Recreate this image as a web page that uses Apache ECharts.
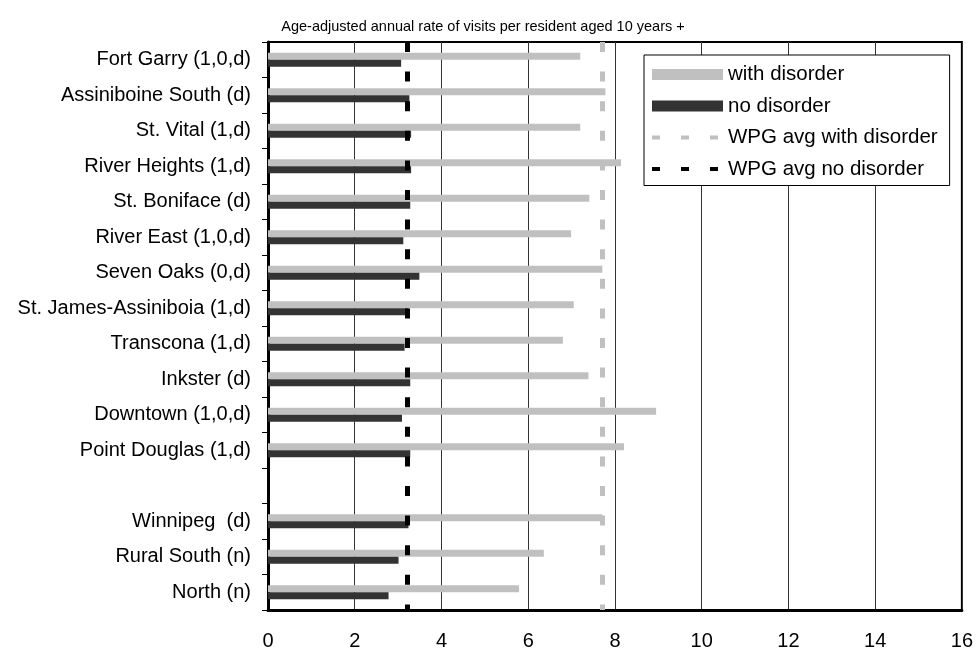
<!DOCTYPE html>
<html>
<head>
<meta charset="utf-8">
<script src="https://cdn.jsdelivr.net/npm/echarts@6/dist/echarts.min.js"></script>
<style>html,body{margin:0;padding:0;background:#fff;}#c{width:976px;height:651px;}</style>
</head>
<body>
<div id="c"></div>
<script>
const categories = ['Fort Garry (1,0,d)', 'Assiniboine South (d)', 'St. Vital (1,d)', 'River Heights (1,d)', 'St. Boniface (d)', 'River East (1,0,d)', 'Seven Oaks (0,d)', 'St. James-Assiniboia (1,d)', 'Transcona (1,d)', 'Inkster (d)', 'Downtown (1,0,d)', 'Point Douglas (1,d)', '', 'Winnipeg  (d)', 'Rural South (n)', 'North (n)'];
const withDisorder = [7.20, 7.78, 7.20, 8.14, 7.41, 6.99, 7.71, 7.05, 6.80, 7.39, 8.95, 8.21, null, 7.71, 6.36, 5.79];
const noDisorder = [3.07, 3.26, 3.30, 3.30, 3.28, 3.12, 3.49, 3.24, 3.15, 3.28, 3.09, 3.28, null, 3.24, 3.01, 2.78];
const wpgAvgWith = 7.70;
const wpgAvgNo = 3.22;
const xMin = 0, xMax = 16, xStep = 2;
const subtitle = 'Age-adjusted annual rate of visits per resident aged 10 years +';

const chart = echarts.init(document.getElementById('c'));
const font = 'Arial, "Liberation Sans", sans-serif';
chart.setOption({
  animation: false,
  backgroundColor: '#fff',
  title: {
    text: subtitle, left: 478, top: 14, textAlign: 'center',
    textStyle: {fontFamily: font, fontSize: 14.5, fontWeight: 'normal', color: '#000'}
  },
  grid: {left: 268, right: 11, top: 42, bottom: 41, show: true, borderColor: '#000', borderWidth: 2, backgroundColor: 'transparent'},
  legend: {
    orient: 'vertical', left: 644, top: 55,
    backgroundColor: '#fff', borderColor: '#000', borderWidth: 1,
    padding: [9, 12, 6, 6], itemGap: 10.5, itemWidth: 71, itemHeight: 11,
    textStyle: {fontFamily: font, fontSize: 20.5, color: '#000', lineHeight: 20},
    data: [
      {name: 'with disorder', icon: 'rect'},
      {name: 'no disorder', icon: 'rect'},
      {name: 'WPG avg with disorder', itemStyle: {opacity: 0}, lineStyle: {type: [8, 21], width: 4, color: '#C0C0C0'}},
      {name: 'WPG avg no disorder', itemStyle: {opacity: 0}, lineStyle: {type: [8, 21], width: 4, color: '#000'}}
    ]
  },
  xAxis: {
    type: 'value', min: xMin, max: xMax, interval: xStep,
    axisLine: {show: true, lineStyle: {color: '#000', width: 3}},
    axisTick: {show: false},
    axisLabel: {fontFamily: font, fontSize: 20, color: '#000', margin: 21},
    splitLine: {show: true, lineStyle: {color: '#333', width: 1}}
  },
  yAxis: {
    type: 'category', data: categories, inverse: true,
    axisLine: {show: true, lineStyle: {color: '#000', width: 3}},
    axisTick: {show: true, length: 6, lineStyle: {color: '#000', width: 1}},
    axisLabel: {fontFamily: font, fontSize: 20, color: '#000', margin: 17},
    splitLine: {show: false}
  },
  series: [
    {name: 'with disorder', type: 'bar', data: withDisorder, barWidth: 7, barGap: '0%', itemStyle: {color: '#C0C0C0'}, z: 2},
    {name: 'no disorder', type: 'bar', data: noDisorder, barWidth: 7, barGap: '0%', itemStyle: {color: '#333333'}, z: 2},
    {name: 'WPG avg with disorder', type: 'line', data: [], symbol: 'none', lineStyle: {color: '#C0C0C0', width: 5, type: [10, 19.6]}, itemStyle: {color: '#C0C0C0'},
      markLine: {silent: true, symbol: 'none', label: {show: false}, lineStyle: {color: '#C0C0C0', width: 5, type: [10, 19.6]}, data: [{xAxis: wpgAvgWith}]}, z: 5},
    {name: 'WPG avg no disorder', type: 'line', data: [], symbol: 'none', lineStyle: {color: '#000', width: 5, type: [10, 19.6]}, itemStyle: {color: '#000'},
      markLine: {silent: true, symbol: 'none', label: {show: false}, lineStyle: {color: '#000', width: 5, type: [10, 19.6]}, data: [{xAxis: wpgAvgNo}]}, z: 5}
  ]
});
</script>
</body>
</html>
